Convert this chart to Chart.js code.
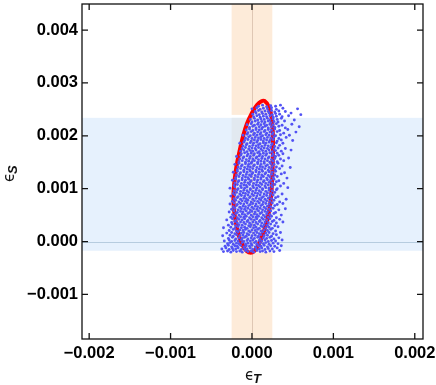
<!DOCTYPE html>
<html>
<head>
<meta charset="utf-8">
<script src="https://cdn.jsdelivr.net/npm/chart.js@4.4.1/dist/chart.umd.min.js"></script>
<style>
  html, body { margin: 0; padding: 0; background: #fff; }
</style>
</head>
<body>
<canvas id="chart" width="436" height="385"></canvas>
<script>
// axis ranges (eps_T on x, eps_S on y)
const xRange = [-0.002088, 0.002101];
const yRange = [-0.001843, 0.004493];

// allowed bands
const tBand = [-0.00025, 0.00025];
const sBand = [-0.000174, 0.00234];
const tBandStops = [-0.000206, 0.002396]; // orange band is interrupted around the blue one

// points in units of 1e-5
const unit = 1e-5;

// red contour
const contour = [
  [25.8,170.2],[25.6,207.7],[24,235.8],[20.9,254.6],[15.4,265.9],[11.1,264.9],[6.2,258.3],
  [0,243.3],[-6.2,222.7],[-11.1,198.3],[-15.4,170.2],[-19.1,142],[-21.5,113.9],[-22.8,85.8],
  [-22.1,61.4],[-19.7,35.1],[-16,10.7],[-11.1,-8.1],[-6.2,-18.4],[-1.5,-21.2],[2.5,-18.4],
  [7.4,-8.1],[13.5,14.4],[18.5,38.8],[22.1,67],[24,95.1],[25.2,132.6],[25.8,170.2]
];

// scan points
const cloud = [
  [-35,-19],[-30,-18],[-26,-20],[-23,-17],[-19,-19],[-15,-18],[-12,-20],[-8,-17],[-5,-19],[-1,-18],[2,-20],[6,-17],[10,-19],[13,-18],[17,-20],[22,-18],[27,-19],[34,-17],
  [-37,-14],[-32,-12],[-28,-15],[-24,-13],[-20,-14],[-17,-12],[-13,-15],[-9,-13],[-6,-14],[-2,-12],[1,-15],[5,-13],[9,-14],[12,-12],[16,-15],[20,-13],[25,-14],[31,-12],
  [-33,-9],[-29,-7],[-25,-10],[-21,-8],[-18,-9],[-14,-7],[-10,-10],[-7,-8],[-3,-9],[0,-7],[4,-10],[8,-8],[11,-9],[15,-7],[19,-10],[23,-8],[28,-9],[36,-8],
  [-30,-4],[-27,-2],[-23,-5],[-19,-3],[-16,-4],[-12,-2],[-8,-5],[-5,-3],[-1,-4],[3,-2],[6,-5],[10,-3],[14,-4],[17,-2],[21,-5],[26,-3],[32,-4],
  [-34,1],[-28,3],[-25,0],[-21,2],[-17,1],[-13,3],[-10,0],[-6,2],[-2,1],[1,3],[5,0],[9,2],[12,1],[16,3],[20,0],[24,2],[29,1],[37,3],
  [-29,6],[-24,8],[-20,5],[-16,7],[-12,6],[-9,8],[-5,5],[-1,7],[3,6],[7,8],[10,5],[14,7],[18,6],[22,8],[27,5],[33,7],
  [-36,11],[-27,12],[-23,10],[-19,13],[-15,11],[-11,12],[-7,10],[-4,13],[0,11],[4,12],[8,10],[11,13],[15,11],[19,12],[24,10],[30,13],
  [-31,16],[-25,17],[-21,15],[-17,18],[-13,16],[-10,17],[-6,15],[-2,18],[2,16],[6,17],[9,15],[13,18],[17,16],[21,17],[26,15],[35,17],
  [-28,21],[-23,23],[-19,20],[-15,22],[-11,21],[-8,23],[-4,20],[0,22],[4,21],[7,23],[11,20],[15,22],[19,21],[23,23],[29,20],
  [-35,26],[-26,27],[-21,25],[-17,28],[-13,26],[-9,27],[-6,25],[-2,28],[2,26],[5,27],[9,25],[13,28],[17,26],[21,27],[25,25],[32,28],
  [-29,31],[-24,33],[-20,30],[-16,32],[-12,31],[-8,33],[-4,30],[-1,32],[3,31],[7,33],[11,30],[15,32],[19,31],[23,33],[28,30],
  [-25,36],[-21,38],[-18,35],[-14,37],[-10,36],[-6,38],[-3,35],[1,37],[5,36],[9,38],[12,35],[16,37],[20,36],[25,38],[30,35],[38,37],
  [-31,41],[-24,43],[-20,40],[-16,42],[-12,41],[-9,43],[-5,40],[-1,42],[3,41],[6,43],[10,40],[14,42],[18,41],[22,43],[27,40],[34,42],
  [-26,46],[-22,48],[-18,45],[-14,47],[-10,46],[-7,48],[-3,45],[1,47],[5,46],[8,48],[12,45],[16,47],[20,46],[24,48],[30,45],
  [-24,51],[-20,53],[-16,50],[-12,52],[-9,51],[-5,53],[-1,50],[3,52],[6,51],[10,53],[14,50],[18,52],[22,51],[27,53],[36,50],
  [-28,56],[-22,58],[-18,55],[-14,57],[-11,56],[-7,58],[-3,55],[0,57],[4,56],[8,58],[12,55],[16,57],[19,56],[23,58],[29,55],
  [-25,61],[-21,63],[-17,60],[-13,62],[-9,61],[-5,63],[-2,60],[2,62],[6,61],[10,63],[13,60],[17,62],[21,61],[26,63],[33,60],[41,62],
  [-23,66],[-19,68],[-15,65],[-11,67],[-8,66],[-4,68],[0,65],[4,67],[7,66],[11,68],[15,65],[19,67],[23,66],[28,68],
  [-27,71],[-22,73],[-18,70],[-14,72],[-10,71],[-6,73],[-2,70],[1,72],[5,71],[9,73],[13,70],[17,72],[21,71],[25,73],[31,70],[38,72],
  [-24,76],[-20,78],[-16,75],[-12,77],[-8,76],[-5,78],[-1,75],[3,77],[7,76],[11,78],[14,75],[18,77],[22,76],[27,78],[34,75],
  [-22,81],[-18,83],[-14,80],[-10,82],[-7,81],[-3,83],[1,80],[5,82],[9,81],[12,83],[16,80],[20,82],[24,81],[29,83],[42,80],
  [-26,86],[-21,88],[-17,85],[-13,87],[-9,86],[-5,88],[-2,85],[2,87],[6,86],[10,88],[14,85],[18,87],[22,86],[26,88],[32,85],
  [-23,91],[-19,93],[-15,90],[-11,92],[-8,91],[-4,93],[0,90],[4,92],[7,91],[11,93],[15,90],[19,92],[23,91],[28,93],[37,90],
  [-22,96],[-18,98],[-14,95],[-10,97],[-6,96],[-2,98],[1,95],[5,97],[9,96],[13,98],[17,95],[21,97],[25,96],[30,98],
  [-27,101],[-21,103],[-17,100],[-13,102],[-9,101],[-6,103],[-2,100],[2,102],[6,101],[10,103],[13,100],[17,102],[21,101],[25,103],[31,100],[44,102],
  [-22,106],[-18,108],[-14,105],[-10,107],[-7,106],[-3,108],[1,105],[5,107],[8,106],[12,108],[16,105],[20,107],[24,106],[28,108],[35,105],
  [-21,111],[-17,113],[-13,110],[-9,112],[-5,111],[-2,113],[2,110],[6,112],[10,111],[14,113],[17,110],[21,112],[25,111],[30,113],[39,110],
  [-24,116],[-20,118],[-16,115],[-12,117],[-8,116],[-4,118],[-1,115],[3,117],[7,116],[11,118],[15,115],[19,117],[23,116],[27,118],[33,115],
  [-20,121],[-16,123],[-12,120],[-8,122],[-5,121],[-1,123],[3,120],[7,122],[11,121],[14,123],[18,120],[22,122],[26,121],[31,123],[43,120],
  [-19,126],[-15,128],[-11,125],[-7,127],[-3,126],[0,128],[4,125],[8,127],[12,126],[16,128],[20,125],[24,127],[28,126],[36,128],
  [-23,131],[-18,133],[-14,130],[-10,132],[-6,131],[-2,133],[1,130],[5,132],[9,131],[13,133],[17,130],[21,132],[25,131],[29,133],[40,130],
  [-18,136],[-14,138],[-10,135],[-6,137],[-3,136],[1,138],[5,135],[9,137],[12,136],[16,138],[20,135],[24,137],[28,136],[34,138],
  [-17,141],[-13,143],[-9,140],[-5,142],[-2,141],[2,143],[6,140],[10,142],[13,141],[17,143],[21,140],[25,142],[30,141],[37,143],[47,140],
  [-21,146],[-16,148],[-12,145],[-8,147],[-4,146],[-1,148],[3,145],[7,147],[11,146],[15,148],[19,145],[23,147],[27,146],[32,148],
  [-16,151],[-12,153],[-8,150],[-4,152],[0,151],[3,153],[7,150],[11,152],[15,151],[19,153],[22,150],[26,152],[31,151],[39,153],
  [-15,156],[-11,158],[-7,155],[-3,157],[1,156],[5,158],[8,155],[12,157],[16,156],[20,158],[24,155],[28,157],[35,156],[45,158],
  [-19,161],[-14,163],[-10,160],[-6,162],[-2,161],[2,163],[6,160],[9,162],[13,161],[17,163],[21,160],[25,162],[29,161],[33,163],
  [-13,166],[-9,168],[-5,165],[-1,167],[3,166],[7,168],[10,165],[14,167],[18,166],[22,168],[26,165],[31,167],[38,166],
  [-14,171],[-10,173],[-6,170],[-2,172],[1,171],[5,173],[9,170],[13,172],[17,171],[21,173],[25,170],[29,172],[36,171],[48,173],
  [-12,176],[-8,178],[-4,175],[0,177],[4,176],[8,178],[11,175],[15,177],[19,176],[23,178],[27,175],[32,177],[41,176],
  [-11,181],[-7,183],[-3,180],[1,182],[5,181],[8,183],[12,180],[16,182],[20,181],[24,183],[28,180],[34,182],
  [-15,186],[-10,188],[-6,185],[-2,187],[2,186],[6,188],[10,185],[14,187],[17,186],[21,188],[25,185],[30,187],[38,186],
  [-9,191],[-5,193],[-1,190],[3,192],[7,191],[11,193],[14,190],[18,192],[22,191],[26,193],[31,190],[36,192],[50,191],
  [-8,196],[-4,198],[0,195],[4,197],[8,196],[11,198],[15,195],[19,197],[23,196],[27,198],[33,195],[42,197],
  [-11,201],[-6,203],[-2,200],[2,202],[6,201],[10,203],[13,200],[17,202],[21,201],[25,203],[29,200],[35,202],[46,201],
  [-5,206],[-1,208],[3,205],[7,207],[11,206],[15,208],[18,205],[22,207],[26,206],[31,208],[39,205],[54,207],
  [-7,211],[-3,213],[1,210],[5,212],[9,211],[12,213],[16,210],[20,212],[24,211],[28,213],[34,210],[44,212],
  [-3,216],[1,218],[5,215],[9,217],[13,216],[16,218],[20,215],[24,217],[28,216],[33,218],[41,215],[58,217],
  [-6,221],[-1,223],[3,220],[7,222],[11,221],[15,223],[18,220],[22,222],[26,221],[30,223],[37,220],[49,222],
  [0,226],[4,228],[8,225],[12,227],[16,226],[20,228],[23,225],[27,227],[32,226],[40,228],
  [-2,231],[3,233],[7,230],[11,232],[15,231],[19,233],[22,230],[26,232],[31,231],[36,233],[52,230],
  [2,236],[6,238],[10,235],[14,237],[18,236],[22,238],[26,235],[30,237],[37,236],[45,238],
  [1,241],[5,243],[9,240],[13,242],[17,241],[21,243],[25,240],[29,242],[34,241],[48,243],[60,240],
  [4,246],[8,248],[12,245],[16,247],[20,246],[24,248],[28,245],[33,247],[41,246],
  [0,251],[6,253],[10,250],[14,252],[19,251],[24,253],[30,250],[38,252],[56,251],
  [8,256],[13,258],[18,255],[23,257],[29,256],[35,258]
];

const toXY = p => ({ x: p[0] * unit, y: p[1] * unit });

const tickFont = { family: "'Liberation Sans', Arial, sans-serif", size: 16.5, weight: 'bold' };

function tickLabel(v) {
  // labels only every 0.001, ticks every 0.0002
  if (Math.round(v / 0.0002) % 5 !== 0) return null;
  const s = Math.abs(v).toFixed(3);
  return v < -1e-9 ? '\u2212' + s : s;
}

const bandsPlugin = {
  id: 'bands',
  beforeDatasetsDraw(chart) {
    const { ctx, chartArea: a, scales: { x, y } } = chart;
    const tx0 = x.getPixelForValue(tBand[0]), tx1 = x.getPixelForValue(tBand[1]);
    const sy0 = y.getPixelForValue(sBand[1]), sy1 = y.getPixelForValue(sBand[0]);
    ctx.save();
    ctx.fillStyle = '#e6f1fd';
    ctx.fillRect(a.left, sy0, a.right - a.left, sy1 - sy0);
    ctx.fillStyle = '#fdebd9';
    const oTop = y.getPixelForValue(tBandStops[1]);
    const oBot = y.getPixelForValue(tBandStops[0]);
    ctx.fillRect(tx0, a.top, tx1 - tx0, oTop - a.top);
    ctx.fillRect(tx0, oBot, tx1 - tx0, a.bottom - oBot);
    ctx.fillStyle = '#e2e9f0';
    ctx.fillRect(tx0, sy0, tx1 - tx0, sy1 - sy0);
    // zero lines
    ctx.lineWidth = 1;
    ctx.strokeStyle = 'rgba(170,195,215,0.8)';
    const y0 = Math.round(y.getPixelForValue(0)) + 0.5;
    ctx.beginPath(); ctx.moveTo(a.left, y0); ctx.lineTo(a.right, y0); ctx.stroke();
    ctx.strokeStyle = 'rgba(215,190,170,0.8)';
    const x0 = Math.round(x.getPixelForValue(0)) + 0.5;
    ctx.beginPath(); ctx.moveTo(x0, a.top); ctx.lineTo(x0, a.bottom); ctx.stroke();
    ctx.restore();
  }
};

const framePlugin = {
  id: 'frame',
  afterDatasetsDraw(chart) {
    const { ctx, chartArea: a, scales: { x, y } } = chart;
    ctx.save();
    ctx.strokeStyle = '#111';
    ctx.lineWidth = 1.3;
    ctx.strokeRect(a.left, a.top, a.right - a.left, a.bottom - a.top);
    ctx.beginPath();
    x.ticks.forEach(t => {
      const px = x.getPixelForValue(t.value);
      const len = Math.round(t.value / 0.0002) % 5 === 0 ? 6 : 3.5;
      ctx.moveTo(px, a.bottom); ctx.lineTo(px, a.bottom - len);
      ctx.moveTo(px, a.top); ctx.lineTo(px, a.top + len);
    });
    y.ticks.forEach(t => {
      const py = y.getPixelForValue(t.value);
      const len = Math.round(t.value / 0.0002) % 5 === 0 ? 6 : 3.5;
      ctx.moveTo(a.left, py); ctx.lineTo(a.left + len, py);
      ctx.moveTo(a.right, py); ctx.lineTo(a.right - len, py);
    });
    ctx.stroke();

    // axis titles: epsilon with subscript
    ctx.fillStyle = '#111';
    ctx.textBaseline = 'alphabetic';
    ctx.textAlign = 'left';
    ctx.font = "15px 'DejaVu Sans', sans-serif";
    ctx.fillText('\u03F5', 245, 380);
    ctx.font = "italic bold 13px 'Liberation Sans', Arial, sans-serif";
    ctx.fillText('T', 253, 383);

    ctx.translate(14, 182);
    ctx.rotate(-Math.PI / 2);
    ctx.font = "15px 'DejaVu Sans', sans-serif";
    ctx.fillText('\u03F5', 0, 0);
    ctx.font = "italic bold 13px 'Liberation Sans', Arial, sans-serif";
    ctx.fillText('S', 8, 3);
    ctx.restore();
  }
};

new Chart(document.getElementById('chart'), {
  type: 'scatter',
  data: {
    datasets: [
      {
        label: 'scan',
        data: cloud.map(toXY),
        pointRadius: 1.45,
        pointBackgroundColor: '#5252f4',
        pointBorderWidth: 0,
        showLine: false
      },
      {
        label: 'contour',
        data: contour.map(toXY),
        showLine: true,
        pointRadius: 0,
        borderColor: '#ff0000',
        borderWidth: 4,
        tension: 0.4,
        borderJoinStyle: 'round',
        borderCapStyle: 'round',
        fill: false
      }
    ]
  },
  options: {
    responsive: false,
    animation: false,
    events: [],
    layout: { padding: { top: 1, right: 13, left: 0, bottom: 0 } },
    plugins: { legend: { display: false }, tooltip: { enabled: false } },
    scales: {
      x: {
        type: 'linear',
        min: xRange[0],
        max: xRange[1],
        grid: { display: false, drawTicks: false },
        border: { display: false },
        ticks: {
          stepSize: 0.0002,
          autoSkip: false,
          includeBounds: false,
          maxRotation: 0,
          padding: 5,
          color: '#000',
          font: tickFont,
          callback: tickLabel
        },
        afterFit(s) { s.height = 46; s.paddingLeft = 0; s.paddingRight = 0; }
      },
      y: {
        type: 'linear',
        min: yRange[0],
        max: yRange[1],
        grid: { display: false, drawTicks: false },
        border: { display: false },
        ticks: {
          stepSize: 0.0002,
          autoSkip: false,
          includeBounds: false,
          padding: 4,
          color: '#000',
          font: tickFont,
          callback: tickLabel
        },
        afterFit(s) { s.width = 82; s.paddingTop = 0; s.paddingBottom = 0; }
      }
    }
  },
  plugins: [bandsPlugin, framePlugin]
});
</script>
</body>
</html>
